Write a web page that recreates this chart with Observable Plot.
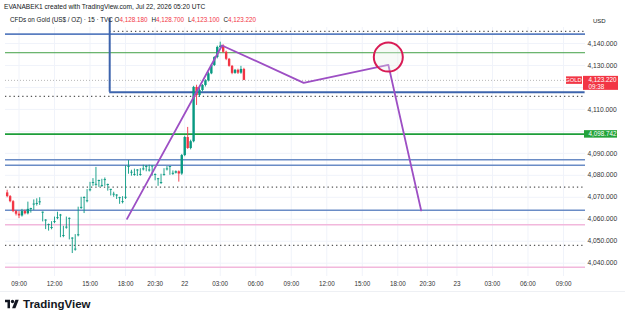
<!DOCTYPE html>
<html><head><meta charset="utf-8">
<script src="https://cdn.jsdelivr.net/npm/d3@7"></script>
<script src="https://cdn.jsdelivr.net/npm/@observablehq/plot@0.6"></script>
<style>
body{margin:0;background:#fff;font-family:"Liberation Sans",Arial,sans-serif;}
#wrap{position:relative;width:625px;height:319px;overflow:hidden;background:#fff;}
#chart{position:absolute;left:0;top:0;}
.t1{position:absolute;left:4px;top:3px;font-size:6.6px;color:#131722;white-space:nowrap;}
.t2{position:absolute;left:10px;top:16px;font-size:6.3px;color:#131722;white-space:nowrap;}
.t2 .r{color:#f23645;margin-right:4px;}
.usd{position:absolute;left:593px;top:18px;font-size:6px;color:#131722;}
.sep{position:absolute;left:0;top:291px;width:625px;height:1px;background:#eef0f4;}
.foot{position:absolute;left:5px;top:298px;display:flex;align-items:center;gap:3px;font-weight:bold;font-size:11.5px;color:#131722;}
</style></head>
<body><div id="wrap">
<div id="chart"></div>
<div class="t1">EVANABEK1 created with TradingView.com, Jul 22, 2026 05:20 UTC</div>
<div class="t2">CFDs on Gold (US$ / OZ) · 15 · TVC O<span class="r">4,128.180</span>H<span class="r">4,128.700</span>L<span class="r">4,123.100</span>C<span class="r">4,123.220</span></div>
<div class="usd">USD</div>
<div class="sep"></div>
<div class="foot"><svg width="15" height="10" viewBox="0 0 36 24"><path d="M0 2h12v20h-6V8H0z" fill="#131722"/><circle cx="18" cy="6" r="4" fill="#131722"/><path d="M25 2h8l-8 20h-8z" fill="#131722"/></svg><span>TradingView</span></div>
</div>
<script>
// ---- data ----
const firstBar = -4;
const openP  = [4072.0,4070.3,4068.0,4063.5,4062.3,4061.5,4063.5,4062.5,4064.5,4066.5,4066.8,4067.5,4062.8,4059.2,4057.2,4055.8,4058.5,4060.3,4061.5,4052.2,4056.0,4060.0,4051.0,4046.0,4052.5,4065.0,4069.5,4068.0,4073.0,4076.3,4075.5,4077.2,4075.0,4077.6,4075.4,4073.2,4071.0,4070.6,4069.4,4067.6,4069.6,4083.6,4081.0,4080.0,4082.0,4080.0,4082.5,4083.6,4082.0,4083.8,4080.0,4078.0,4076.3,4080.0,4082.5,4083.6,4080.5,4081.0,4081.6,4080.6,4089.0,4097.2,4092.2,4095.3,4120.0,4116.3,4118.6,4120.9,4123.0,4126.2,4130.0,4133.6,4138.2,4138.8,4136.0,4132.8,4129.6,4126.4,4127.8,4126.5,4128.18];
const highP  = [4073.2,4070.8,4068.5,4064.0,4063.5,4064.5,4064.2,4067.8,4065.0,4068.8,4069.3,4069.8,4063.3,4059.8,4057.8,4058.9,4061.0,4063.2,4062.2,4056.8,4061.0,4060.6,4051.6,4053.0,4065.5,4070.0,4070.2,4073.5,4076.8,4078.5,4083.6,4077.8,4078.2,4078.8,4076.0,4073.6,4072.3,4071.2,4070.0,4070.3,4084.3,4086.7,4082.3,4082.8,4082.6,4083.0,4084.6,4084.5,4084.6,4084.2,4080.6,4078.6,4080.5,4083.0,4084.0,4084.0,4082.0,4082.0,4082.0,4089.5,4097.8,4101.8,4096.0,4120.5,4121.0,4119.5,4121.3,4123.5,4126.8,4130.5,4134.0,4138.8,4140.6,4139.4,4136.5,4133.2,4130.0,4128.2,4128.3,4129.6,4128.70];
const lowP   = [4069.8,4067.5,4063.0,4061.5,4060.3,4061.0,4062.0,4062.0,4062.8,4064.0,4066.0,4066.3,4058.8,4055.3,4054.6,4055.2,4058.0,4059.8,4051.6,4051.6,4055.5,4050.6,4044.4,4045.5,4052.0,4064.5,4062.6,4067.5,4072.5,4075.0,4075.0,4074.5,4074.5,4075.0,4072.8,4070.6,4070.0,4069.0,4066.8,4067.0,4069.0,4080.5,4079.6,4079.6,4079.5,4079.6,4082.0,4081.6,4081.5,4079.6,4077.5,4075.0,4075.8,4079.6,4082.0,4080.0,4080.0,4080.6,4076.9,4080.0,4088.5,4091.8,4091.6,4094.8,4111.8,4115.5,4118.0,4120.2,4122.5,4125.8,4129.5,4133.0,4137.6,4135.5,4132.2,4129.2,4125.8,4126.0,4125.9,4126.0,4123.10];
const closeP = [4070.3,4068.0,4063.5,4062.3,4061.5,4063.5,4062.5,4064.5,4064.5,4066.5,4067.0,4067.5,4062.8,4059.2,4057.2,4055.8,4058.5,4060.3,4061.5,4052.2,4056.0,4060.0,4051.0,4046.0,4052.5,4065.0,4069.5,4068.0,4073.0,4076.3,4075.5,4077.2,4075.0,4077.6,4075.4,4073.2,4071.0,4070.6,4069.4,4067.6,4069.6,4083.6,4081.0,4080.0,4082.0,4080.0,4082.5,4083.6,4082.0,4083.8,4080.0,4078.0,4076.3,4080.0,4082.5,4083.6,4080.5,4081.6,4080.6,4089.0,4097.2,4092.2,4095.3,4120.0,4116.3,4118.6,4120.9,4123.0,4126.2,4130.0,4133.6,4138.2,4138.8,4136.0,4132.8,4129.6,4126.4,4127.8,4126.5,4128.2,4123.22];

const xTickPos = [0,12,24,36,46,56,68,80,92,104,116,128,138,148,160,172,184];
const xTickLabels = ["09:00","12:00","15:00","18:00","20:30","22","03:00","06:00","09:00","12:00","15:00","18:00","20:30","23","03:00","06:00","09:00"];
const yGrid = [4040,4050,4060,4070,4080,4090,4100,4110,4120,4130,4140];
const yTickLabels = [4040,4050,4060,4070,4080,4090,4110,4130,4140]; // 4,100 and 4,120 sit under the price tags

const blueLevels = [4087.1, 4084.6, 4064.1];
const blueTop = [4144.3];
const greenThin = [4135.8];
const greenKey = [4098.742];
const pinkLevels = [4057.5, 4038.2];
const dottedLevels = [4115.9, 4074.6, 4048.1];
const boxBar = [30.65];
const boxTopPrice = [4151.4];
const boxBottomPrice = [4117.8];
const boxDotted = [4145.5];
const lastPrice = [4123.22];

const pathBar   = [36.5, 68.6, 96.2, 124.8, 135.9];
const pathPrice = [4060.2, 4139.1, 4122.1, 4130.3, 4064.0];
const circleBar = [124.8];
const circlePrice = [4133.8];

// ---- build ----
const candles = openP.map((o,k)=>({i:firstBar+k,o,h:highP[k],l:lowP[k],c:closeP[k]}));
const path = pathBar.map((b,k)=>({b,p:pathPrice[k]}));
const fmt = d3.format(",.3f");
const up = "#089981", dn = "#f23645";
const xRight = 191.3;
const dots = "1.3,3";

const chart = Plot.plot({
  width: 625, height: 319,
  marginLeft: 5, marginRight: 40, marginTop: 27, marginBottom: 43,
  x: {domain: [0,184], range: [18.5,563]},
  y: {domain: [4040,4140], range: [262.7,43]},
  style: {fontFamily: "'Liberation Sans', Arial, sans-serif", color: "#131722", background: "transparent", overflow: "visible"},
  marks: [
    Plot.ruleX(xTickPos, {stroke: "#f0f3fa", strokeWidth: 1}),
    Plot.ruleY(yGrid, {stroke: "#f0f3fa", strokeWidth: 1}),
    Plot.ruleY(lastPrice, {stroke: "#b8b8b8", strokeDasharray: "1,2", strokeWidth: 1}),
    Plot.ruleY(dottedLevels, {stroke: "#555", strokeDasharray: dots, strokeWidth: 1.2}),
    Plot.ruleY(boxDotted, {x1: boxBar[0], x2: xRight, stroke: "#555", strokeDasharray: dots, strokeWidth: 1.2}),
    Plot.ruleY(pinkLevels, {stroke: "#f2b8dc", strokeWidth: 1.5}),
    Plot.ruleY(blueLevels, {stroke: "#6a8cc6", strokeWidth: 1.6}),
    Plot.ruleY(blueTop, {stroke: "#5a7ec0", strokeWidth: 1.8}),
    Plot.ruleY(greenThin, {stroke: "#43a047", strokeWidth: 1}),
    Plot.ruleY(greenKey, {stroke: "#1e9e3a", strokeWidth: 1.6}),
    Plot.ruleY(boxBottomPrice, {x1: boxBar[0], x2: xRight, stroke: "#3d64ad", strokeWidth: 2}),
    Plot.ruleX(boxBar, {y1: boxTopPrice[0], y2: boxBottomPrice[0], stroke: "#3d64ad", strokeWidth: 2}),
    Plot.ruleX(candles, {x: "i", y1: "l", y2: "h", stroke: d => d.c >= d.o ? up : dn, strokeWidth: 0.9}),
    Plot.ruleX(candles, {x: "i", y1: "o", y2: d => Math.abs(d.c-d.o) < 0.4 ? d.o + 0.4 : d.c, stroke: d => d.c >= d.o ? up : dn, strokeWidth: 2.4}),
    Plot.line(path, {x: "b", y: "p", stroke: "#9d4fc4", strokeWidth: 1.8}),
    Plot.dot(circleBar.map((b,k)=>({b,p:circlePrice[k]})), {x: "b", y: "p", r: 14.5, stroke: "#d81b55", strokeWidth: 2, fill: "#e8f0e8", fillOpacity: 0.35}),
    Plot.axisX(xTickPos, {anchor: "bottom", tickSize: 0, tickPadding: 5, fontSize: 6.3, fill: "#333", tickFormat: d => xTickLabels[xTickPos.indexOf(d)], label: null}),
    Plot.axisY(yTickLabels, {anchor: "right", tickSize: 0, tickPadding: 2, fontSize: 6.7, fill: "#333", tickFormat: fmt, label: null}),
    Plot.rect(lastPrice, {y1: d => d, y2: d => d, insetTop: -4, insetBottom: -10, insetLeft: 578, insetRight: -33, fill: "#f23645"}),
    Plot.rect(lastPrice, {y1: d => d, y2: d => d, insetTop: -3.5, insetBottom: -4, insetLeft: 561, insetRight: 3, fill: "#f23645"}),
    Plot.text(lastPrice, {y: d => d, frameAnchor: "right", dx: 3, textAnchor: "start", text: d => fmt(d), fill: "white", fontSize: 6.3}),
    Plot.text(lastPrice, {y: d => d, frameAnchor: "right", dx: 3, dy: 6.5, textAnchor: "start", text: () => "09:38", fill: "white", fontSize: 6.3}),
    Plot.text(lastPrice, {y: d => d, frameAnchor: "right", dx: -12, textAnchor: "middle", text: () => "GOLD", fill: "white", fontSize: 5.8}),
    Plot.rect(greenKey, {y1: d => d, y2: d => d, insetTop: -3.5, insetBottom: -4, insetLeft: 579, insetRight: -32, fill: "#22a33a"}),
    Plot.text(greenKey, {y: d => d, frameAnchor: "right", dx: 3, textAnchor: "start", text: d => fmt(d), fill: "white", fontSize: 6.3})
  ]
});
document.getElementById("chart").appendChild(chart);
</script>
</body></html>
